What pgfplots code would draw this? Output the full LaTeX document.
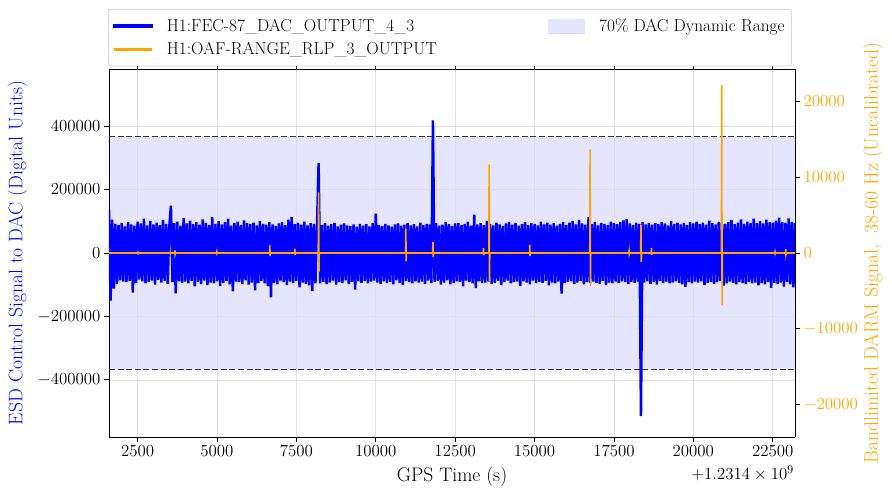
\RequirePackage{fix-cm}
\documentclass[border=0pt]{standalone}
\usepackage{fontspec}
\usepackage{pgfplots}
\pgfplotsset{compat=1.18}
\definecolor{mplorange}{RGB}{255,165,0}
\definecolor{dacshade}{RGB}{229,229,255}
\definecolor{dacedge}{RGB}{214,214,255}
\begin{document}
\begin{tikzpicture}[font=\fontsize{16.9}{20}\selectfont]
\useasboundingbox (-109pt,-57pt) rectangle (783pt,437pt);
\begin{axis}[
  width=686pt, height=368pt, scale only axis,
  xmin=1600, xmax=23200, ymin=-580000, ymax=580000,
  hide axis,
]
\addplot[fill=dacshade, draw=none] coordinates {(1600,-367002) (23200,-367002) (23200,367002) (1600,367002) (1600,-367002)};
\end{axis}
\begin{axis}[
  name=main,
  width=686pt, height=368pt, scale only axis,
  xmin=1600, xmax=23200, ymin=-580000, ymax=580000,
  axis y line*=left,
  axis line style={black, line width=0.9pt},
  scaled ticks=false,
  /pgf/number format/1000 sep={},
  /pgf/number format/fixed,
  xtick={2500,5000,7500,10000,12500,15000,17500,20000,22500},
  ytick={-400000,-200000,0,200000,400000},
  tick align=outside, major tick length=5pt,
  tick style={black, line width=0.8pt},
  tick label style={font=\fontsize{16.9}{20}\selectfont},
  grid=major, grid style={black!12, line width=0.6pt},
  xlabel={GPS Time (s)},
  ylabel={ESD Control Signal to DAC (Digital Units)},
  label style={font=\fontsize{19.6}{23}\selectfont},
  xlabel style={at={(axis description cs:0.5,0)}, anchor=north, yshift=-26pt},
  ylabel style={blue, at={(axis description cs:-0.1334,0.5)}, anchor=center},
  legend columns=2,
  legend cell align=left,
  legend style={at={(axis description cs:-0.001,1.0073)}, anchor=south west,
    draw=black!20, rounded corners=2pt, fill=white, line width=0.8pt,
    inner xsep=4.7pt, inner ysep=7.5pt, row sep=5.5pt,
    font=\fontsize{17.3}{20}\selectfont,
    /tikz/every odd column/.append style={column sep=12pt},
    /tikz/every even column/.append style={column sep=109pt}},
]
\addplot[black!80, line width=1.3pt, dash pattern=on 6pt off 2.6pt, forget plot] coordinates {(1600,367002) (23200,367002)};
\addplot[black!80, line width=1.3pt, dash pattern=on 6pt off 2.6pt, forget plot] coordinates {(1600,-367002) (23200,-367002)};
\addplot[blue, line width=2.5pt, legend image code/.code={\fill[blue, rounded corners=0pt] (0pt,-0.7pt) rectangle (37pt,0.7pt);}] coordinates {
(1600,136000) (1650,-150000) (1700,105000) (1750,-112000) (1800,92000) (1850,-98000) (1900,88000) (1950,-86000) (2000,95000) (2050,-90000)
(2100,84000) (2150,-92000) (2200,97000) (2250,-88000) (2300,90000) (2350,-125000) (2400,86000) (2450,-95000) (2500,99000) (2550,-84000)
(2600,93000) (2650,-89000) (2700,108000) (2750,-96000) (2800,87000) (2850,-91000) (2900,101000) (2950,-87000) (3000,90000) (3050,-100000)
(3100,96000) (3150,-85000) (3200,88000) (3250,-93000) (3300,104000) (3350,-88000) (3400,92000) (3450,-97000) (3500,85000) (3550,149000)
(3600,-92000) (3650,94000) (3700,-127000) (3750,99000) (3800,-89000) (3850,86000) (3900,-94000) (3950,110000) (4000,-90000) (4050,93000)
(4100,-96000) (4150,102000) (4200,-88000) (4250,91000) (4300,-105000) (4350,97000) (4400,-92000) (4450,89000) (4500,-98000) (4550,106000)
(4600,-87000) (4650,95000) (4700,-101000) (4750,88000) (4800,-93000) (4850,113000) (4900,-96000) (4950,92000) (5000,-89000) (5050,100000)
(5100,-104000) (5150,90000) (5200,-94000) (5250,97000) (5300,-88000) (5350,108000) (5400,-99000) (5450,86000) (5500,-121000) (5550,95000)
(5600,-90000) (5650,99000) (5700,-92000) (5750,88000) (5800,-97000) (5850,103000) (5900,-86000) (5950,94000) (6000,-100000) (6050,91000)
(6100,-93000) (6150,96000) (6200,-118000) (6250,87000) (6300,-95000) (6350,101000) (6400,-88000) (6450,92000) (6500,-96000) (6550,89000)
(6600,-104000) (6650,97000) (6700,-140000) (6750,90000) (6800,-94000) (6850,85000) (6900,-99000) (6950,93000) (7000,-87000) (7050,98000)
(7100,-92000) (7150,88000) (7200,-101000) (7250,105000) (7300,-90000) (7350,114000) (7400,-95000) (7450,91000) (7500,-88000) (7550,96000)
(7600,-108000) (7650,89000) (7700,-93000) (7750,99000) (7800,-97000) (7850,87000) (7900,-102000) (7950,94000) (8000,-120000) (8050,92000)
(8100,-96000) (8150,90000) (8200,283500) (8250,-96000) (8300,88000) (8350,-91000) (8400,94000) (8450,-98000) (8500,86000) (8550,-93000)
(8600,91000) (8650,-87000) (8700,95000) (8750,-100000) (8800,84000) (8850,-92000) (8900,89000) (8950,-95000) (9000,93000) (9050,-86000)
(9100,87000) (9150,-98000) (9200,85000) (9250,-91000) (9300,90000) (9350,-115000) (9400,83000) (9450,-89000) (9500,92000) (9550,-94000)
(9600,86000) (9650,-88000) (9700,91000) (9750,-96000) (9800,84000) (9850,-90000) (9900,94000) (9950,-87000) (10000,124000) (10050,-93000)
(10100,88000) (10150,-97000) (10200,85000) (10250,-89000) (10300,92000) (10350,-95000) (10400,87000) (10450,-91000) (10500,83000) (10550,-99000)
(10600,90000) (10650,-86000) (10700,93000) (10750,-94000) (10800,86000) (10850,-101000) (10900,89000) (10950,-88000) (11000,95000) (11050,-92000)
(11100,87000) (11150,-96000) (11200,91000) (11250,-89000) (11300,84000) (11350,-93000) (11400,96000) (11450,-90000) (11500,88000) (11550,-97000)
(11600,92000) (11650,-87000) (11700,90000) (11750,-95000) (11800,418000) (11850,-91000) (11900,94000) (11950,-88000) (12000,86000) (12050,-100000)
(12100,89000) (12150,-93000) (12200,97000) (12250,-86000) (12300,91000) (12350,-99000) (12400,85000) (12450,-94000) (12500,93000) (12550,-89000)
(12600,95000) (12650,-91000) (12700,88000) (12750,-105000) (12800,92000) (12850,-87000) (12900,99000) (12950,-92000) (13000,86000) (13050,-96000)
(13100,121000) (13150,-111000) (13200,90000) (13250,-89000) (13300,94000) (13350,-95000) (13400,88000) (13450,-93000) (13500,101000) (13550,-90000)
(13600,92000) (13650,-98000) (13700,87000) (13750,-94000) (13800,96000) (13850,-88000) (13900,90000) (13950,-101000) (14000,85000) (14050,-92000)
(14100,93000) (14150,-87000) (14200,98000) (14250,-96000) (14300,89000) (14350,-92000) (14400,95000) (14450,-90000) (14500,86000) (14550,-104000)
(14600,91000) (14650,-89000) (14700,97000) (14750,-93000) (14800,88000) (14850,-99000) (14900,94000) (14950,-87000) (15000,92000) (15050,-95000)
(15100,87000) (15150,-91000) (15200,99000) (15250,-94000) (15300,90000) (15350,-88000) (15400,96000) (15450,-102000) (15500,89000) (15550,-93000)
(15600,94000) (15650,-96000) (15700,86000) (15750,-90000) (15800,92000) (15850,-128000) (15900,98000) (15950,-95000) (16000,88000) (16050,-91000)
(16100,96000) (16150,-89000) (16200,101000) (16250,-97000) (16300,90000) (16350,-93000) (16400,104000) (16450,-88000) (16500,93000) (16550,-99000)
(16600,89000) (16650,-92000) (16700,113000) (16750,-95000) (16800,91000) (16850,-90000) (16900,98000) (16950,-94000) (17000,87000) (17050,-97000)
(17100,95000) (17150,-88000) (17200,92000) (17250,-101000) (17300,88000) (17350,-93000) (17400,99000) (17450,-96000) (17500,94000) (17550,-90000)
(17600,91000) (17650,-95000) (17700,97000) (17750,-89000) (17800,103000) (17850,-92000) (17900,107000) (17950,-98000) (18000,93000) (18050,-91000)
(18100,88000) (18150,-94000) (18200,96000) (18250,-90000) (18300,92000) (18350,-514000) (18400,97000) (18450,-93000) (18500,90000) (18550,-89000)
(18600,95000) (18650,-97000) (18700,89000) (18750,-92000) (18800,94000) (18850,-100000) (18900,91000) (18950,-88000) (19000,98000) (19050,-95000)
(19100,93000) (19150,-90000) (19200,87000) (19250,-96000) (19300,100000) (19350,-93000) (19400,92000) (19450,-89000) (19500,96000) (19550,-94000)
(19600,90000) (19650,-99000) (19700,95000) (19750,-107000) (19800,88000) (19850,-92000) (19900,97000) (19950,-96000) (20000,93000) (20050,-90000)
(20100,99000) (20150,-93000) (20200,91000) (20250,-89000) (20300,96000) (20350,-101000) (20400,89000) (20450,-94000) (20500,102000) (20550,-91000)
(20600,94000) (20650,-97000) (20700,90000) (20750,-92000) (20800,98000) (20850,-88000) (20900,95000) (20950,-103000) (21000,92000) (21050,-96000)
(21100,97000) (21150,-90000) (21200,104000) (21250,-94000) (21300,91000) (21350,-99000) (21400,96000) (21450,-92000) (21500,106000) (21550,-95000)
(21600,92000) (21650,-98000) (21700,99000) (21750,-91000) (21800,95000) (21850,-96000) (21900,108000) (21950,-93000) (22000,94000) (22050,-102000)
(22100,100000) (22150,-95000) (22200,93000) (22250,-99000) (22300,105000) (22350,-92000) (22400,97000) (22450,-110000) (22500,96000) (22550,-94000)
(22600,102000) (22650,-97000) (22700,111000) (22750,-93000) (22800,98000) (22850,-106000) (22900,95000) (22950,-91000) (23000,109000) (23050,-99000)
(23100,97000) (23150,-108000) (23200,94000)
};
\addlegendentry{H1:FEC-87\_DAC\_OUTPUT\_4\_3}
\addlegendimage{legend image code/.code={\fill[dacedge, rounded corners=0pt] (0pt,-7pt) rectangle (36.5pt,7pt); \fill[dacshade, rounded corners=0pt] (0.5pt,-6.5pt) rectangle (36pt,6.5pt);}}
\addlegendentry{70\% DAC Dynamic Range}
\addlegendimage{legend image code/.code={\fill[mplorange, rounded corners=0pt] (0pt,-0.7pt) rectangle (37pt,0.7pt);}}
\addlegendentry{H1:OAF-RANGE\_RLP\_3\_OUTPUT}
\end{axis}
\begin{axis}[
  width=686pt, height=368pt, scale only axis,
  xmin=1600, xmax=23200, ymin=-24300, ymax=24300,
  axis y line*=right, axis x line=none,
  axis line style={black, line width=0.9pt},
  scaled ticks=false,
  /pgf/number format/1000 sep={},
  /pgf/number format/fixed,
  ytick={-20000,-10000,0,10000,20000},
  tick align=outside, major tick length=5pt,
  tick style={black, line width=0.8pt},
  tick label style={font=\fontsize{16.9}{20}\selectfont},
  yticklabel style={mplorange},
  ylabel={Bandlimited DARM Signal,~ 38-60 Hz (Uncalibrated)},
  label style={font=\fontsize{19.6}{23}\selectfont},
  ylabel style={mplorange, at={(axis description cs:1.1137,0.5)}, anchor=center},
]
\addplot[mplorange, line width=1.6pt] coordinates {
(1600,0) (2500,0) (2510,80) (2520,-60) (2530,0) (3670,0) (3677,350) (3684,-100) (3690,0)
(4990,0) (4996,120) (5002,-60) (5010,0) (6655,0) (6665,1020) (6672,-400) (6680,0)
(7445,0) (7452,580) (7459,-250) (7466,0) (8190,0) (8200,8000) (8210,-2500) (8220,0)
(10936,0) (10946,3230) (10956,-1100) (10966,0) (11790,0) (11800,1460) (11810,-530) (11820,0)
(13385,0) (13392,660) (13399,-300) (13406,0) (13559,0) (13569,11700) (13579,-3700) (13589,0)
(14843,0) (14850,1110) (14857,-400) (14864,0) (16738,0) (16748,13700) (16758,-4370) (16768,0)
(17970,0) (17976,200) (17982,-100) (17988,0) (18340,0) (18350,3670) (18360,-1190) (18370,0)
(18673,0) (18680,660) (18687,-250) (18694,0) (20884,0) (20894,22200) (20904,-6930) (20914,0)
(22563,0) (22570,120) (22577,-80) (22584,0) (22901,0) (22908,490) (22915,-150) (22922,0) (23200,0)
};
\end{axis}
\node[anchor=north east, inner sep=0pt, xshift=-1pt, yshift=-29pt] at (main.south east) {$+1.2314\times10^{9}$};
\end{tikzpicture}
\end{document}
